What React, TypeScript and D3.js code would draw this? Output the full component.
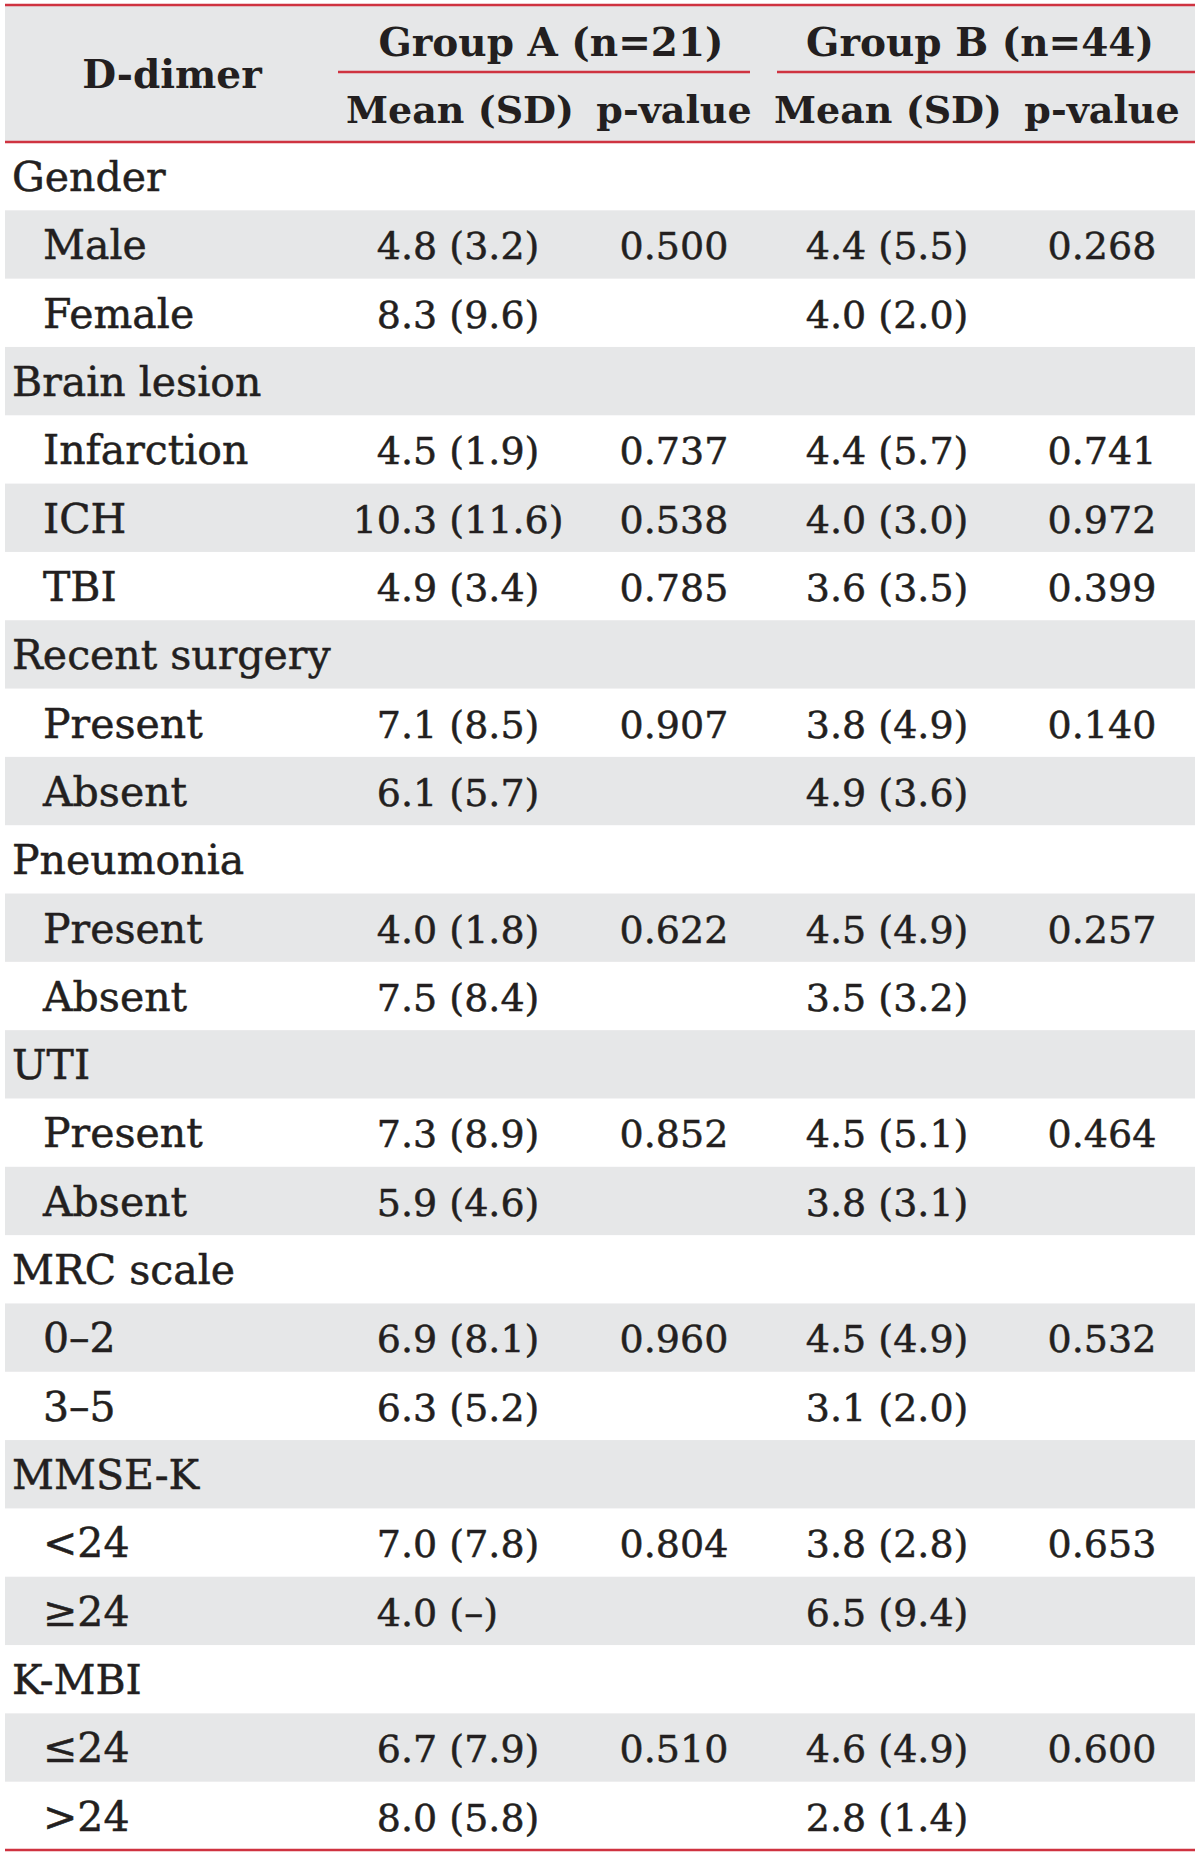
import React from "react";
import * as d3 from "d3";

const labels = ["Gender","Male","Female","Brain lesion","Infarction","ICH","TBI","Recent surgery","Present","Absent","Pneumonia","Present","Absent","UTI","Present","Absent","MRC scale","0–2","3–5","MMSE-K","<24","≥24","K-MBI","≤24",">24"];
const isSub = [0,1,1,0,1,1,1,0,1,1,0,1,1,0,1,1,0,1,1,0,1,1,0,1,1];
const meanA = ["","4.8 (3.2)","8.3 (9.6)","","4.5 (1.9)","10.3 (11.6)","4.9 (3.4)","","7.1 (8.5)","6.1 (5.7)","","4.0 (1.8)","7.5 (8.4)","","7.3 (8.9)","5.9 (4.6)","","6.9 (8.1)","6.3 (5.2)","","7.0 (7.8)","4.0 (–)","","6.7 (7.9)","8.0 (5.8)"];
const pA = ["","0.500","","","0.737","0.538","0.785","","0.907","","","0.622","","","0.852","","","0.960","","","0.804","","","0.510",""];
const meanB = ["","4.4 (5.5)","4.0 (2.0)","","4.4 (5.7)","4.0 (3.0)","3.6 (3.5)","","3.8 (4.9)","4.9 (3.6)","","4.5 (4.9)","3.5 (3.2)","","4.5 (5.1)","3.8 (3.1)","","4.5 (4.9)","3.1 (2.0)","","3.8 (2.8)","6.5 (9.4)","","4.6 (4.9)","2.8 (1.4)"];
const pB = ["","0.268","","","0.741","0.972","0.399","","0.140","","","0.257","","","0.464","","","0.532","","","0.653","","","0.600",""];
const headerTitle = "D-dimer";
const groupTitles = ["Group A (n=21)", "Group B (n=44)"];
const subHeaders = ["Mean (SD)", "p-value", "Mean (SD)", "p-value"];

const W = 1200, H = 1856;
const RED = "#cf3340";
const GREY = "#e6e7e8";
const INK = "#231f20";
const FONT = "'DejaVu Serif', serif";
const SW = 0.5;

function DecimalText({ x, y, s }: { x: number; y: number; s: string }) {
  if (!s) return null;
  const i = s.indexOf(".");
  const intPart = i >= 0 ? s.slice(0, i) : s;
  const rest = i >= 0 ? s.slice(i) : "";
  return (
    <g>
      <text x={x} y={y} textAnchor="end" fontSize={38} fill={INK} stroke={INK} strokeWidth={SW} fontFamily={FONT}>{intPart}</text>
      <text x={x} y={y} textAnchor="start" fontSize={38} fill={INK} stroke={INK} strokeWidth={SW} fontFamily={FONT}>{rest}</text>
    </g>
  );
}

export default function App() {
  const left = 5, right = 1195;
  const headTop = 5, headBottom = 142, tableBottom = 1850;
  const y = d3.scaleBand<number>().domain(d3.range(labels.length)).range([headBottom, tableBottom]).padding(0);
  const colX = { meanA: 401, pA: 674, meanB: 830, pB: 1102 };
  const subHeadX = [460, 674, 888, 1102];
  const groupX = [551, 980];
  const groupLine = [[338, 750], [777, 1195]];
  return (
    <svg width={W} height={H} style={{ position: "absolute", left: 0, top: 0, background: "#fff" }}>
      <rect x={0} y={0} width={W} height={H} fill="#fff" />
      <rect x={left} y={headTop} width={right - left} height={headBottom - headTop} fill={GREY} />
      {labels.map((_, i) => i % 2 === 1 ? (
        <rect key={"bg" + i} x={left} y={y(i)!} width={right - left} height={y.bandwidth()} fill={GREY} />
      ) : null)}
      <line x1={left} x2={right} y1={headTop} y2={headTop} stroke={RED} strokeWidth={2.5} />
      <line x1={left} x2={right} y1={headBottom} y2={headBottom} stroke={RED} strokeWidth={2.5} />
      <line x1={left} x2={right} y1={tableBottom} y2={tableBottom} stroke={RED} strokeWidth={2.5} />
      {groupLine.map((g, i) => (
        <line key={"gl" + i} x1={g[0]} x2={g[1]} y1={72} y2={72} stroke={RED} strokeWidth={2.5} />
      ))}
      <text x={172} y={88} textAnchor="middle" fontSize={39} fontWeight="bold" fill={INK} fontFamily={FONT}>{headerTitle}</text>
      {groupTitles.map((t, i) => (
        <text key={"gt" + i} x={groupX[i]} y={56} textAnchor="middle" fontSize={39} fontWeight="bold" fill={INK} fontFamily={FONT}>{t}</text>
      ))}
      {subHeaders.map((t, i) => (
        <text key={"sh" + i} x={subHeadX[i]} y={123} textAnchor="middle" fontSize={38} fontWeight="bold" fill={INK} fontFamily={FONT}>{t}</text>
      ))}
      {labels.map((lab, i) => {
        const by = y(i)! + 49;
        return (
          <g key={"r" + i}>
            <text x={isSub[i] ? 43 : 12} y={by} fontSize={41} fill={INK} stroke={INK} strokeWidth={SW} fontFamily={FONT}>{lab}</text>
            <DecimalText x={colX.meanA} y={by} s={meanA[i]} />
            {pA[i] && <text x={colX.pA} y={by} textAnchor="middle" fontSize={38} fill={INK} stroke={INK} strokeWidth={SW} fontFamily={FONT}>{pA[i]}</text>}
            <DecimalText x={colX.meanB} y={by} s={meanB[i]} />
            {pB[i] && <text x={colX.pB} y={by} textAnchor="middle" fontSize={38} fill={INK} stroke={INK} strokeWidth={SW} fontFamily={FONT}>{pB[i]}</text>}
          </g>
        );
      })}
    </svg>
  );
}
